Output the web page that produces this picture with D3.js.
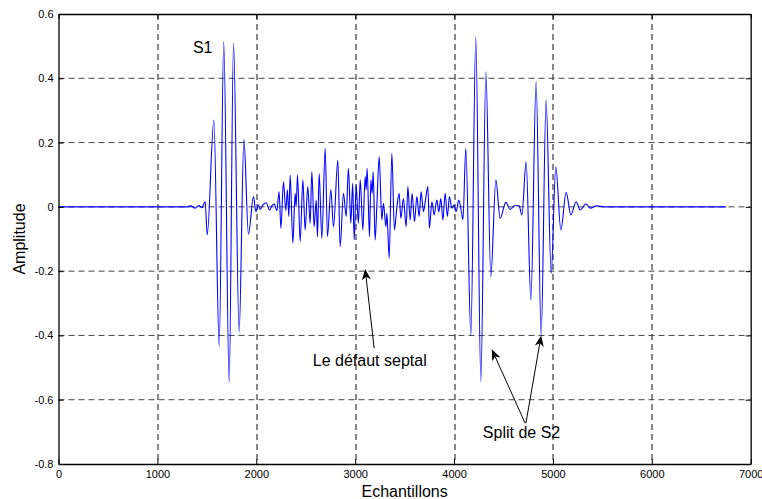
<!DOCTYPE html>
<html>
<head>
<meta charset="utf-8">
<script src="https://cdn.jsdelivr.net/npm/d3@7"></script>
<style>
  body { margin: 0; background: #fff; }
  text { font-family: "Liberation Sans", Arial, sans-serif; }
</style>
</head>
<body>
<div id="chart"></div>
<script>
// Signal (sample index, amplitude)
var samples = [
  0, 1300, 1340, 1380, 1420, 1450, 1483, 1504, 1571, 1625, 1671, 1726, 1770, 1827, 1875, 1921,
  1972, 1996, 2022, 2039, 2067, 2100, 2134, 2157, 2184, 2208, 2231, 2249, 2275, 2299, 2315, 2329,
  2343, 2370, 2393, 2403, 2417, 2444, 2471, 2494, 2521, 2545, 2562, 2585, 2606, 2619, 2636, 2663,
  2697, 2720, 2754, 2781, 2825, 2848, 2882, 2909, 2932, 2956, 2975, 2990, 3010, 3033, 3051, 3078,
  3101, 3111, 3121, 3145, 3159, 3172, 3182, 3202, 3219, 3243, 3270, 3286, 3311, 3321, 3344, 3371,
  3397, 3422, 3445, 3462, 3488, 3516, 3533, 3556, 3576, 3600, 3624, 3647, 3667, 3691, 3711, 3735,
  3751, 3776, 3799, 3826, 3846, 3866, 3887, 3910, 3933, 3953, 3978, 4001, 4021, 4048, 4072, 4090,
  4119, 4170, 4220, 4271, 4322, 4372, 4423, 4466, 4524, 4567, 4618, 4658, 4686, 4729, 4777, 4830,
  4881, 4931, 4982, 5029, 5080, 5134, 5181, 5235, 5275, 5333, 5380, 5440, 5520, 6750
];
var amplitude = [
  0, 0, 0.003, -0.004, 0.004, -0.003, 0.016, -0.087, 0.27, -0.435, 0.514, -0.547, 0.51, -0.39, 0.21, -0.085,
  0.032, -0.015, 0.006, -0.008, 0.006, 0.013, -0.01, 0.003, 0.009, -0.012, 0.047, -0.067, 0.078, -0.012, 0.053, -0.03,
  0.099, -0.113, 0.042, 0.0, 0.099, -0.108, 0.084, -0.072, 0.063, -0.051, 0.11, -0.062, 0.021, -0.093, 0.104, -0.098,
  0.182, -0.093, 0.053, -0.062, 0.146, -0.124, 0.042, -0.03, 0.12, -0.051, 0.073, -0.103, 0.068, -0.051, 0.084, -0.072,
  0.094, 0.053, 0.12, -0.093, 0.084, 0.042, 0.11, -0.103, 0.0, 0.156, -0.041, 0.011, -0.062, -0.02, -0.16, 0.167,
  -0.072, 0.0, 0.042, -0.036, 0.026, -0.062, 0.063, -0.041, 0.042, -0.046, 0.032, -0.03, 0.047, -0.015, 0.021, 0.063,
  -0.067, 0.016, -0.025, 0.021, -0.015, 0.026, -0.041, 0.042, -0.03, 0.032, -0.004, 0.006, -0.015, 0.021, -0.01, -0.04,
  0.182, -0.4, 0.528, -0.544, 0.42, -0.217, 0.084, -0.036, 0.014, -0.008, 0.004, 0.003, -0.025, 0.14, -0.29, 0.39,
  -0.4, 0.333, -0.207, 0.125, -0.072, 0.045, -0.025, 0.016, -0.01, 0.009, -0.004, 0.003, 0, 0
];

// Tick labels
var xTicks = [0, 1000, 2000, 3000, 4000, 5000, 6000, 7000];
var yTicks = [-0.8, -0.6, -0.4, -0.2, 0, 0.2, 0.4, 0.6];

// Annotations, in data units
var labelS1 = { text: "S1", x: 1359, y: 0.478 };
var labelSeptal = { text: "Le défaut septal", x: 2572, y: -0.495 };
var arrowSeptal = [{ from: [3192, -0.44], to: [3101, -0.193] }];
var labelSplit = { text: "Split de S2", x: 4291, y: -0.72 };
var arrowSplit = [
  { from: [4719, -0.673], to: [4382, -0.443] },
  { from: [4727, -0.673], to: [4881, -0.40] }
];

var margin = { top: 14, right: 11.3, bottom: 35, left: 58.5 },
  width = 762 - margin.left - margin.right,
  height = 499 - margin.top - margin.bottom;

var svg = d3.select("#chart")
  .append("svg")
  .attr("width", 762)
  .attr("height", 499)
  .append("g")
  .attr("transform", "translate(" + margin.left + "," + margin.top + ")");

var x = d3.scaleLinear().domain([0, 7000]).range([0, width]);
var y = d3.scaleLinear().domain([-0.8, 0.6]).range([height, 0]);

// Grid
svg.selectAll(".vgrid")
  .data(xTicks.slice(1, -1))
  .enter().append("line")
  .attr("class", "vgrid")
  .attr("x1", function (d) { return Math.round(x(d)) + 0.5; })
  .attr("x2", function (d) { return Math.round(x(d)) + 0.5; })
  .attr("y1", 0).attr("y2", height)
  .attr("stroke", "#111")
  .attr("stroke-dasharray", "6,4");

svg.selectAll(".hgrid")
  .data(yTicks.slice(1, -1))
  .enter().append("line")
  .attr("class", "hgrid")
  .attr("x1", 0).attr("x2", width)
  .attr("y1", function (d) { return y(d); })
  .attr("y2", function (d) { return y(d); })
  .attr("stroke", "#444")
  .attr("stroke-dasharray", "6,4");

// Signal
var data = samples.map(function (s, i) { return { s: s, a: amplitude[i] }; });
var line = d3.line()
  .x(function (d) { return x(d.s); })
  .y(function (d) { return y(d.a); })
  .curve(d3.curveMonotoneX);

svg.append("path")
  .datum(data)
  .attr("d", line)
  .attr("fill", "none")
  .attr("stroke", "#0000ff")
  .attr("stroke-width", 1.1);

// Axes (MATLAB-style box with inward ticks)
function fmtY(d) { return d === 0 ? "0" : String(+d.toFixed(1)); }

var xAxis = svg.append("g")
  .attr("transform", "translate(0," + height + ")")
  .call(d3.axisBottom(x).tickValues(xTicks).tickSize(-5).tickSizeOuter(0).tickPadding(6).tickFormat(d3.format("d")));
var yAxis = svg.append("g")
  .call(d3.axisLeft(y).tickValues(yTicks).tickSize(-5).tickSizeOuter(0).tickPadding(5).tickFormat(fmtY));
svg.append("g")
  .call(d3.axisTop(x).tickValues(xTicks).tickSize(-5).tickSizeOuter(0).tickFormat(""));
svg.append("g")
  .attr("transform", "translate(" + width + ",0)")
  .call(d3.axisRight(y).tickValues(yTicks).tickSize(-5).tickSizeOuter(0).tickFormat(""));

svg.selectAll(".domain").attr("stroke", "#000").attr("stroke-width", 1.3);
svg.selectAll(".tick line").attr("stroke", "#000");
svg.selectAll(".tick text")
  .attr("fill", "#000")
  .style("font-family", "'Liberation Sans', Arial, sans-serif")
  .style("font-size", "11px");

// Axis titles
svg.append("text")
  .attr("x", width / 2)
  .attr("y", height + 33)
  .attr("text-anchor", "middle")
  .style("font-size", "16px")
  .text("Echantillons");

svg.append("text")
  .attr("transform", "translate(" + (-33.5) + "," + (height / 2) + ") rotate(-90)")
  .attr("text-anchor", "middle")
  .style("font-size", "16px")
  .text("Amplitude");

// Annotations
function addLabel(l) {
  svg.append("text")
    .attr("x", x(l.x))
    .attr("y", y(l.y))
    .style("font-size", "16px")
    .text(l.text);
}
addLabel(labelS1);
addLabel(labelSeptal);
addLabel(labelSplit);

function addArrows(list) {
  list.forEach(function (a) {
    var x0 = x(a.from[0]), y0 = y(a.from[1]),
      x1 = x(a.to[0]), y1 = y(a.to[1]);
    var ang = Math.atan2(y1 - y0, x1 - x0);
    var len = 11, half = 4.5, notch = 8;
    var ux = Math.cos(ang), uy = Math.sin(ang);
    svg.append("line")
      .attr("x1", x0).attr("y1", y0)
      .attr("x2", x1 - ux * notch).attr("y2", y1 - uy * notch)
      .attr("stroke", "#000").attr("stroke-width", 1);
    var bx = x1 - ux * len, by = y1 - uy * len;
    var pts = [
      [x1, y1],
      [bx - uy * half, by + ux * half],
      [x1 - ux * notch, y1 - uy * notch],
      [bx + uy * half, by - ux * half]
    ];
    svg.append("path")
      .attr("d", "M" + pts.map(function (p) { return p.join(","); }).join("L") + "Z")
      .attr("fill", "#000");
  });
}
addArrows(arrowSeptal);
addArrows(arrowSplit);
</script>
</body>
</html>
